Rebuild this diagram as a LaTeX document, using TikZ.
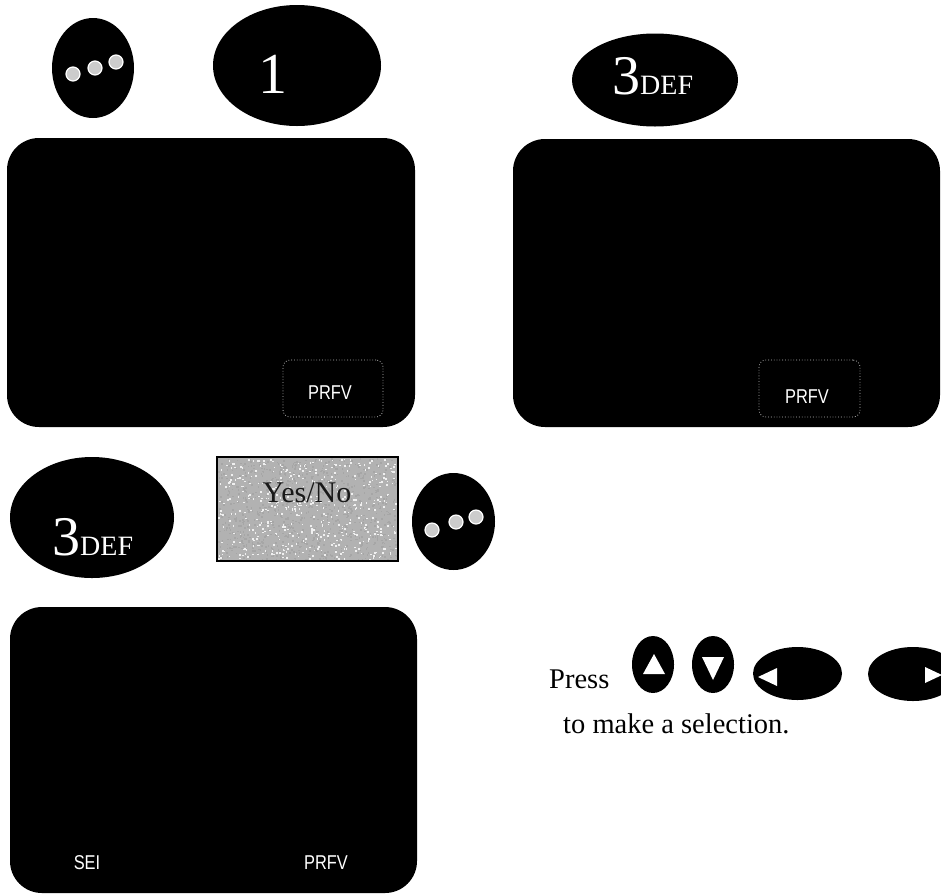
\documentclass[tikz,border=0pt]{standalone}
\usepackage{fontspec}
\setmainfont{Liberation Serif}
\newfontfamily\sansf{Liberation Sans}
\usetikzlibrary{shapes.geometric}
\begin{document}
\begin{tikzpicture}[x=1pt,y=-1pt,
  blackell/.style={ellipse, fill=black, inner sep=0pt},
  screen/.style={rectangle, fill=black, rounded corners=32pt, inner sep=0pt},
  dotbtn/.style={circle, fill=gray!40, draw=white, line width=1.2pt, minimum size=14pt, inner sep=0pt},
  lcd/.style={text=white, font=\sansf\fontsize{20}{20}\selectfont, inner sep=0pt},
  softkey/.style={rectangle, draw=gray!55, dotted, line width=0.8pt, rounded corners=7pt, inner sep=0pt},
  keytext/.style={text=white, inner sep=0pt, anchor=base west},
  plain/.style={text=black, inner sep=0pt, anchor=base west, font=\fontsize{28.5}{28.5}\selectfont},
]
\useasboundingbox (0,0) rectangle (941,895);
\clip (0,0) rectangle (941,895);

% --- top row keys ---
\node[blackell, minimum width=82pt, minimum height=100pt] (dotsA) at (93,68) {};
\node[dotbtn] (dA1) at (73,74) {};
\node[dotbtn] (dA2) at (95,68) {};
\node[dotbtn] (dA3) at (116,62) {};

\node[blackell, minimum width=168pt, minimum height=121pt] (one) at (297,65.5) {};
\node[keytext, font=\fontsize{58}{58}\selectfont] (onet) at (258,93) {1};

\node[blackell, minimum width=166pt, minimum height=93pt] (threeA) at (655,80) {};
\node[keytext, font=\fontsize{56}{56}\selectfont] (threeAt) at (612,94) {3{\fontsize{28}{28}\selectfont DEF}};

% --- screens ---
\node[screen, minimum width=408pt, minimum height=289pt] (scr1) at (211,282.5) {};
\node[softkey, minimum width=100pt, minimum height=57pt] (sk1) at (333,388.5) {};
\node[lcd] (prev1) at (330,393) {\scalebox{0.82}[1]{PRFV}};

\node[screen, minimum width=427pt, minimum height=288pt] (scr2) at (726.5,283) {};
\node[softkey, minimum width=101pt, minimum height=57pt] (sk2) at (809.5,388.5) {};
\node[lcd] (prev2) at (807,397) {\scalebox{0.82}[1]{PRFV}};

% --- middle row ---
\node[blackell, minimum width=164pt, minimum height=121pt] (threeB) at (92,517.5) {};
\node[keytext, font=\fontsize{56}{56}\selectfont] (threeBt) at (52,555) {3{\fontsize{28}{28}\selectfont DEF}};

\node[rectangle, fill={rgb,255:red,178;green,178;blue,178},
      minimum width=181pt, minimum height=104pt, inner sep=0pt] (yn) at (307.5,509) {};
\pgfmathsetseed{7}
\foreach \i in {1,...,900} {
  \pgfmathsetmacro\rx{218+178*rnd}
  \pgfmathsetmacro\ry{458+101*rnd}
  \fill[gray!70] (\rx,\ry) rectangle ++(1.6,1.6);
}
\foreach \i in {1,...,500} {
  \pgfmathsetmacro\rx{218+178*rnd}
  \pgfmathsetmacro\ry{458+101*rnd}
  \fill[gray!12] (\rx,\ry) rectangle ++(1.6,1.6);
}
\draw[black, line width=1.6pt] (yn.north west) rectangle (yn.south east);
\node[text={rgb,255:red,25;green,25;blue,25}, inner sep=0pt, anchor=base, font=\fontsize{30}{30}\selectfont] (ynt) at (307,502) {Yes/No};

\node[blackell, minimum width=83pt, minimum height=97pt] (dotsB) at (453.5,521.5) {};
\node[dotbtn] (dB1) at (432,530) {};
\node[dotbtn] (dB2) at (456,522) {};
\node[dotbtn] (dB3) at (476,517) {};

% --- bottom screen ---
\node[screen, minimum width=407pt, minimum height=286pt] (scr3) at (213.5,750) {};
\node[lcd] (sel) at (87,863) {\scalebox{0.82}[1]{SEI}};
\node[lcd] (prev3) at (326,863) {\scalebox{0.82}[1]{PRFV}};

% --- press instructions ---
\node[plain] (press) at (549,688) {Press};
\node[blackell, minimum width=42pt, minimum height=57pt] (up) at (653,664.5) {};
\fill[white] (643,674) -- (665,674) -- (654,654) -- cycle;
\node[blackell, minimum width=42pt, minimum height=57pt] (down) at (713,664.5) {};
\fill[white] (702,657) -- (724,657) -- (713,680) -- cycle;
\node[blackell, minimum width=89pt, minimum height=53pt] (left) at (797.5,673.5) {};
\fill[white] (758,677) -- (777,668) -- (777,686) -- cycle;
\node[blackell, minimum width=90pt, minimum height=54pt] (right) at (913,674) {};
\fill[white] (925,667) -- (925,683) -- (942,675) -- cycle;
\node[plain] (sel2) at (563,733) {to make a selection.};
\end{tikzpicture}
\end{document}
